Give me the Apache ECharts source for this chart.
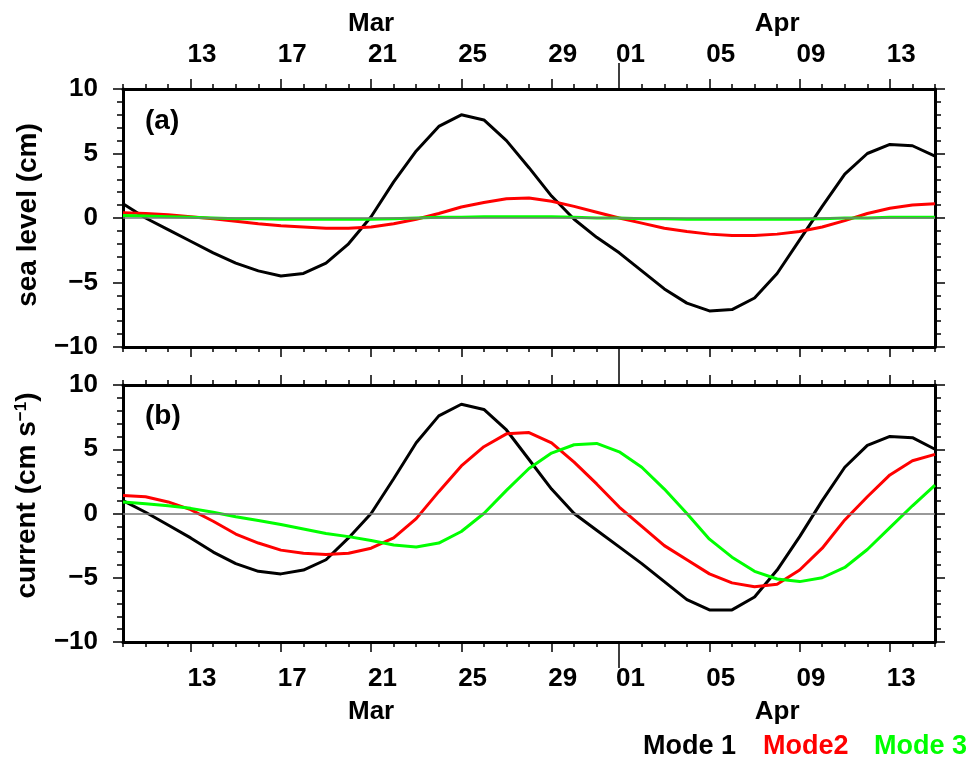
<!DOCTYPE html>
<html><head><meta charset="utf-8">
<script src="https://cdn.jsdelivr.net/npm/echarts@6/dist/echarts.min.js"></script>
<style>html,body{margin:0;padding:0;background:#fff}#c{width:971px;height:765px}</style>
</head><body><div id="c"></div>
<script>
// ---- data ----
const days = ['Mar 10','Mar 11','Mar 12','Mar 13','Mar 14','Mar 15','Mar 16','Mar 17','Mar 18','Mar 19',
  'Mar 20','Mar 21','Mar 22','Mar 23','Mar 24','Mar 25','Mar 26','Mar 27','Mar 28','Mar 29','Mar 30','Mar 31',
  'Apr 01','Apr 02','Apr 03','Apr 04','Apr 05','Apr 06','Apr 07','Apr 08','Apr 09','Apr 10','Apr 11','Apr 12',
  'Apr 13','Apr 14','Apr 15'];
const majorTickDays = ['Mar 13','Mar 17','Mar 21','Mar 25','Mar 29','Apr 01','Apr 05','Apr 09','Apr 13'];
const tickLabels = ['13','17','21','25','29','01','05','09','13'];
const months = ['Mar','Apr'];
const monthStart = 'Apr 01';
const legendNames = ['Mode 1','Mode2','Mode 3'];

const seaMode1 = [1.1,0.0,-0.9,-1.8,-2.7,-3.5,-4.1,-4.5,-4.3,-3.5,-2.0,0.1,2.8,5.2,7.1,8.0,7.6,6.0,3.9,1.7,
  -0.1,-1.5,-2.7,-4.1,-5.5,-6.6,-7.2,-7.1,-6.2,-4.3,-1.7,0.9,3.4,5.0,5.7,5.6,4.8];
const seaMode2 = [0.4,0.35,0.25,0.1,-0.05,-0.25,-0.45,-0.6,-0.7,-0.8,-0.8,-0.7,-0.45,-0.1,0.35,0.85,1.2,1.5,1.55,1.3,
  0.9,0.45,0.0,-0.4,-0.8,-1.05,-1.25,-1.35,-1.35,-1.25,-1.05,-0.7,-0.2,0.35,0.75,1.0,1.1];
const seaMode3 = [0.2,0.15,0.1,0.05,0.0,-0.05,-0.05,-0.1,-0.1,-0.1,-0.1,-0.1,-0.05,0.0,0.05,0.05,0.1,0.1,0.1,0.1,
  0.05,0.0,0.0,-0.05,-0.05,-0.1,-0.1,-0.1,-0.1,-0.1,-0.1,-0.05,0.0,0.0,0.05,0.05,0.05];
const curMode1 = [1.0,0.1,-0.9,-1.9,-3.0,-3.9,-4.5,-4.7,-4.4,-3.6,-1.9,0.0,2.7,5.5,7.6,8.5,8.1,6.5,4.2,1.9,
  0.0,-1.3,-2.6,-3.9,-5.3,-6.7,-7.5,-7.5,-6.5,-4.4,-1.8,1.0,3.6,5.3,6.0,5.9,5.0];
const curMode2 = [1.4,1.3,0.9,0.3,-0.6,-1.6,-2.3,-2.85,-3.1,-3.2,-3.1,-2.7,-1.9,-0.4,1.7,3.7,5.2,6.2,6.3,5.5,
  4.0,2.3,0.5,-1.0,-2.5,-3.6,-4.7,-5.4,-5.7,-5.5,-4.4,-2.7,-0.5,1.3,3.0,4.1,4.6];
const curMode3 = [0.9,0.75,0.6,0.4,0.1,-0.25,-0.55,-0.85,-1.2,-1.55,-1.8,-2.1,-2.45,-2.6,-2.3,-1.4,0.0,1.8,3.5,4.7,
  5.35,5.45,4.8,3.6,1.9,0.0,-2.0,-3.4,-4.5,-5.1,-5.3,-5.0,-4.2,-2.8,-1.1,0.6,2.2];

// ---- layout / styles ----
const FONT = 'Liberation Sans';
const FS = 26;
const N = days.length - 1;
const majorIdx = majorTickDays.map(d => days.indexOf(d));
const labelPos = majorIdx.map(i => i + 0.5);
const mb = days.indexOf(monthStart);
const monthCenters = [mb / 2, (mb + N) / 2];
const near = (arr, v) => arr.findIndex(p => Math.abs(p - v) < 1e-6);
const tickLine = { color: '#000', width: 1.5 };
const txt = { fontFamily: FONT, fontSize: FS, fontWeight: 'bold', color: '#000' };

function xAxes(grid, pos, showLabels, longLen, dayMargin, monMargin) {
  const base = { type: 'value', gridIndex: grid, position: pos, min: 0, max: N, splitLine: { show: false } };
  return [
    Object.assign({}, base, {
      interval: 1,
      axisLine: { show: true, onZero: false, lineStyle: { color: '#000', width: 3 } },
      axisTick: { show: true, length: 5, lineStyle: tickLine },
      axisLabel: Object.assign({ show: showLabels, customValues: labelPos, margin: dayMargin,
        formatter: v => tickLabels[near(labelPos, v)] }, txt)
    }),
    Object.assign({}, base, {
      axisLine: { show: false, onZero: false },
      axisTick: { show: true, customValues: majorIdx, length: 10, lineStyle: tickLine },
      axisLabel: Object.assign({ show: showLabels, customValues: monthCenters, margin: monMargin,
        formatter: v => months[near(monthCenters, v)] }, txt)
    }),
    Object.assign({}, base, {
      axisLine: { show: false, onZero: false },
      axisTick: { show: true, customValues: [mb], length: longLen, lineStyle: tickLine },
      axisLabel: { show: false }
    })
  ];
}

function yAxes(grid, name, nameExtra) {
  const base = { type: 'value', gridIndex: grid, min: -10, max: 10, interval: 5, splitLine: { show: false },
    axisLine: { show: true, onZero: false, lineStyle: { color: '#000', width: 3 } },
    axisTick: { show: true, length: 10, lineStyle: tickLine },
    minorTick: { show: true, splitNumber: 5, length: 6, lineStyle: tickLine } };
  return [
    Object.assign({}, base, {
      position: 'left', name: name, nameLocation: 'middle', nameGap: 81,
      nameTextStyle: Object.assign({}, txt, { fontSize: 28 }, nameExtra || {}),
      axisLabel: Object.assign({ margin: 25, formatter: v => String(v).replace('-', '\u2212') }, txt)
    }),
    Object.assign({}, base, { position: 'right', axisLabel: { show: false } })
  ];
}

const xAxis = [].concat(
  xAxes(0, 'top', true, 26, 21, 52),
  xAxes(0, 'bottom', false, 19, 22, 56),
  xAxes(1, 'top', false, 19, 22, 56),
  xAxes(1, 'bottom', true, 26, 24, 57)
);
const yAxis = [].concat(
  yAxes(0, 'sea level (cm)', { padding: [0, 0, 0, 6] }),
  yAxes(1, 'current (cm s{sup|\u22121})', { padding: [0, 0, 0, 36],
    rich: { sup: { fontFamily: FONT, fontSize: 17, fontWeight: 'bold', color: '#000', verticalAlign: 'top', padding: [0, 0, 12, 0] } } })
);

const colors = ['#000000', '#ff0000', '#00ff00'];
function mk(name, arr, xi, yi, color, zeroLine) {
  const s = { name: name, type: 'line', xAxisIndex: xi, yAxisIndex: yi, showSymbol: false, silent: true,
    data: arr.map((v, i) => [i, v]), lineStyle: { color: color, width: 3 }, itemStyle: { color: color } };
  if (zeroLine) s.markLine = { silent: true, symbol: 'none', label: { show: false },
    lineStyle: { color: '#777', width: 1.5, type: 'solid' }, data: [{ yAxis: 0 }] };
  return s;
}
const series = [
  mk(legendNames[0], seaMode1, 0, 0, colors[0], true),
  mk(legendNames[1], seaMode2, 0, 0, colors[1]),
  mk(legendNames[2], seaMode3, 0, 0, colors[2]),
  mk(legendNames[0], curMode1, 9, 2, colors[0], true),
  mk(legendNames[1], curMode2, 9, 2, colors[1]),
  mk(legendNames[2], curMode3, 9, 2, colors[2])
];

const chart = echarts.init(document.getElementById('c'), null, { renderer: 'canvas' });
chart.setOption({
  animation: false,
  backgroundColor: '#fff',
  grid: [
    { left: 123, top: 89, width: 812, height: 258 },
    { left: 123, top: 385, width: 812, height: 257 }
  ],
  xAxis: xAxis,
  yAxis: yAxis,
  series: series,
  graphic: [
    { type: 'text', left: 145, top: 107, style: { text: '(a)', font: 'bold 28px "Liberation Sans"', fill: '#000' } },
    { type: 'text', left: 145, top: 402, style: { text: '(b)', font: 'bold 28px "Liberation Sans"', fill: '#000' } },
    { type: 'text', left: 643, top: 733, style: { text: legendNames[0], font: 'bold 27px "Liberation Sans"', fill: colors[0] } },
    { type: 'text', left: 763, top: 733, style: { text: legendNames[1], font: 'bold 27px "Liberation Sans"', fill: colors[1] } },
    { type: 'text', left: 874, top: 733, style: { text: legendNames[2], font: 'bold 27px "Liberation Sans"', fill: colors[2] } }
  ]
});
</script></body></html>
